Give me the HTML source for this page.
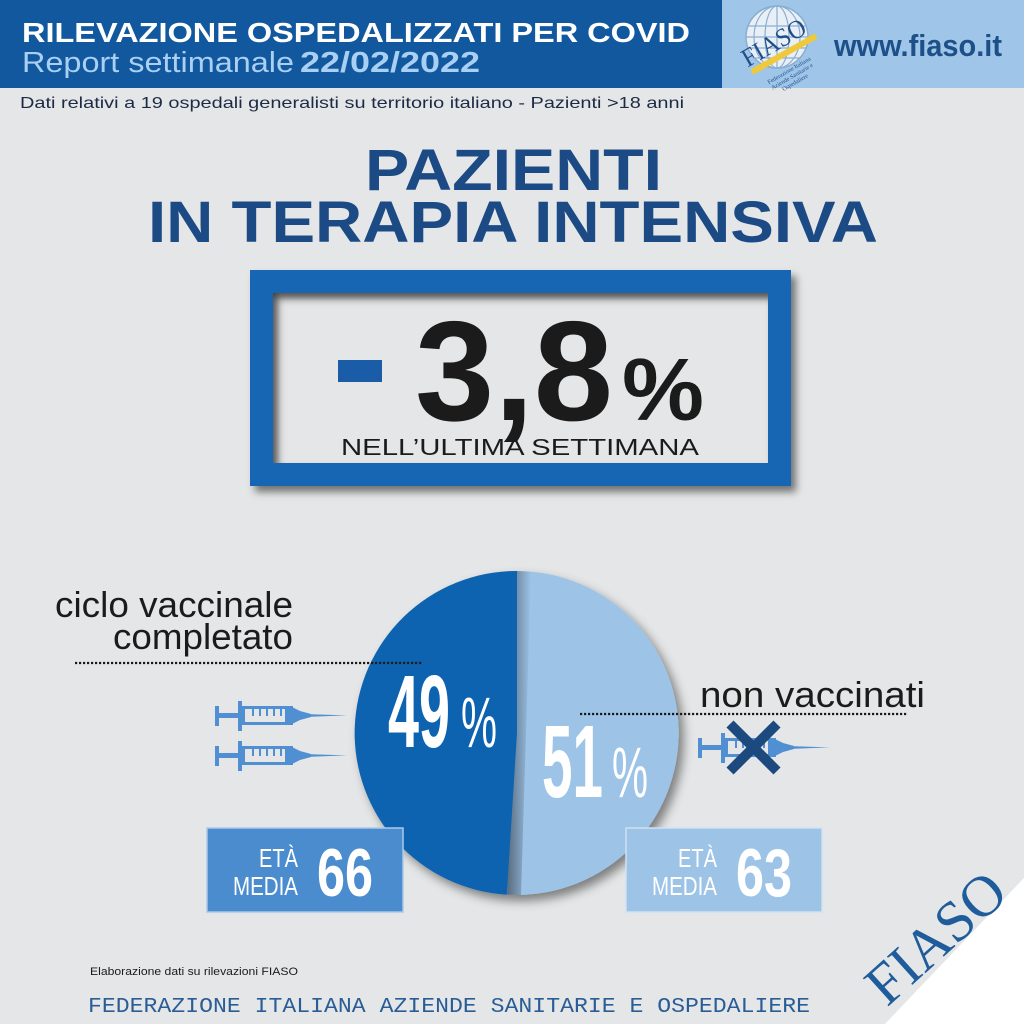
<!DOCTYPE html>
<html><head><meta charset="utf-8"><style>
html,body{margin:0;padding:0;background:#e5e6e7;}
svg{display:block;}
</style></head><body>
<svg width="1024" height="1024" viewBox="0 0 1024 1024" xmlns="http://www.w3.org/2000/svg">
<defs>
  <filter id="ds" x="-10%" y="-10%" width="130%" height="140%">
    <feDropShadow dx="5" dy="6" stdDeviation="4" flood-color="#000" flood-opacity="0.5"/>
  </filter>
  <filter id="dsp" x="-10%" y="-10%" width="130%" height="130%">
    <feDropShadow dx="5" dy="6" stdDeviation="5" flood-color="#000" flood-opacity="0.45"/>
  </filter>
  <linearGradient id="shx" x1="0" x2="1" y1="0" y2="0">
    <stop offset="0" stop-color="#000" stop-opacity="0.45"/>
    <stop offset="1" stop-color="#000" stop-opacity="0"/>
  </linearGradient>
  <linearGradient id="shy" x1="0" x2="0" y1="0" y2="1">
    <stop offset="0" stop-color="#000" stop-opacity="0.25"/>
    <stop offset="1" stop-color="#000" stop-opacity="0"/>
  </linearGradient>
  <linearGradient id="shx2" x1="0" x2="1" y1="0" y2="0">
    <stop offset="0" stop-color="#000" stop-opacity="0.22"/>
    <stop offset="1" stop-color="#000" stop-opacity="0"/>
  </linearGradient>
  <clipPath id="lc">
    <path d="M517,733 L517,571 A162,162 0 1 1 506.8,894.7 Z"/>
  </clipPath>
  <g id="syr">
    <rect x="215" y="706" width="4" height="20" fill="#4f8fd2"/>
    <rect x="219" y="713" width="20" height="5" fill="#4f8fd2"/>
    <rect x="238" y="701" width="4" height="30" fill="#4f8fd2"/>
    <rect x="241" y="706" width="52" height="19" fill="#4f8fd2"/>
    <rect x="245" y="709" width="40" height="13" fill="#e5e6e7"/>
    <rect x="252" y="709" width="2" height="7" fill="#4f8fd2"/>
    <rect x="259" y="709" width="2" height="7" fill="#4f8fd2"/>
    <rect x="266" y="709" width="2" height="7" fill="#4f8fd2"/>
    <rect x="273" y="709" width="2" height="7" fill="#4f8fd2"/>
    <rect x="280" y="709" width="2" height="7" fill="#4f8fd2"/>
    <polygon points="292,707 292,724 300,720 311,717 311,714 300,711" fill="#4f8fd2"/>
    <polygon points="311,714.3 347,715.4 311,716.8" fill="#4f8fd2"/>
  </g>
</defs>

<rect width="1024" height="1024" fill="#e5e6e7"/>

<!-- Header -->
<rect x="0" y="0" width="722" height="88" fill="#11589f"/>
<rect x="722" y="0" width="302" height="88" fill="#9fc5e8"/>
<text x="22" y="42" font-family="Liberation Sans, sans-serif" font-weight="bold" font-size="28" fill="#ffffff" textLength="668" lengthAdjust="spacingAndGlyphs">RILEVAZIONE OSPEDALIZZATI PER COVID</text>
<text x="22" y="72" font-family="Liberation Sans, sans-serif" font-size="29" fill="#a9cff2" textLength="272" lengthAdjust="spacingAndGlyphs">Report settimanale</text>
<text x="300" y="72" font-family="Liberation Sans, sans-serif" font-weight="bold" font-size="29" fill="#a9cff2" textLength="180" lengthAdjust="spacingAndGlyphs">22/02/2022</text>
<text x="20" y="108" font-family="Liberation Sans, sans-serif" font-size="16" fill="#1c2b44" textLength="664" lengthAdjust="spacingAndGlyphs">Dati relativi a 19 ospedali generalisti su territorio italiano - Pazienti &gt;18 anni</text>

<!-- Logo -->
<g>
  <circle cx="777" cy="37" r="31" fill="#e9eff6" stroke="#8aaed0" stroke-width="1.5"/>
  <ellipse cx="777" cy="37" rx="12" ry="31" fill="none" stroke="#8aaed0" stroke-width="1.2"/>
  <ellipse cx="777" cy="37" rx="23" ry="31" fill="none" stroke="#8aaed0" stroke-width="1.2"/>
  <line x1="777" y1="6" x2="777" y2="68" stroke="#8aaed0" stroke-width="1.2"/>
  <line x1="748" y1="26" x2="806" y2="26" stroke="#8aaed0" stroke-width="1.2"/>
  <line x1="746" y1="37" x2="808" y2="37" stroke="#8aaed0" stroke-width="1.2"/>
  <line x1="748" y1="48" x2="806" y2="48" stroke="#8aaed0" stroke-width="1.2"/>
  <line x1="753" y1="58" x2="801" y2="58" stroke="#8aaed0" stroke-width="1.2"/>
  <line x1="752" y1="72" x2="816" y2="36" stroke="#f0c93a" stroke-width="6"/>
  <text transform="translate(778,50) rotate(-30)" text-anchor="middle" font-family="Liberation Serif, serif" font-size="26" fill="#1f4e88" textLength="70" lengthAdjust="spacingAndGlyphs">FIASO</text>
  <text transform="translate(790,72) rotate(-30)" text-anchor="middle" font-family="Liberation Serif, serif" font-size="6" fill="#1f4e88">Federazione Italiana</text>
  <text transform="translate(793,78) rotate(-30)" text-anchor="middle" font-family="Liberation Serif, serif" font-size="6" fill="#1f4e88">Aziende Sanitarie e</text>
  <text transform="translate(796,84) rotate(-30)" text-anchor="middle" font-family="Liberation Serif, serif" font-size="6" fill="#1f4e88">Ospedaliere</text>
</g>
<text x="834" y="56" font-family="Liberation Sans, sans-serif" font-weight="bold" font-size="31" fill="#1d4f88" textLength="168" lengthAdjust="spacingAndGlyphs">www.fiaso.it</text>

<!-- Title -->
<text x="365" y="190" font-family="Liberation Sans, sans-serif" font-weight="bold" font-size="58" fill="#1b4a84" textLength="297" lengthAdjust="spacingAndGlyphs">PAZIENTI</text>
<text x="148" y="242" font-family="Liberation Sans, sans-serif" font-weight="bold" font-size="58" fill="#1b4a84" textLength="730" lengthAdjust="spacingAndGlyphs">IN TERAPIA INTENSIVA</text>

<!-- Frame -->
<path d="M250,270 H791 V486 H250 Z M273,293 V463 H768 V293 Z" fill="#1466b3" fill-rule="evenodd" filter="url(#ds)"/>
<rect x="273" y="293" width="495" height="8" fill="url(#shy)"/>
<rect x="273" y="293" width="8" height="170" fill="url(#shx2)"/>
<rect x="338" y="360" width="44" height="22" fill="#1a5ca8"/>
<text x="415" y="420" font-family="Liberation Sans, sans-serif" font-weight="bold" font-size="142" fill="#1b1b1b" textLength="198" lengthAdjust="spacingAndGlyphs">3,8</text>
<text x="622" y="420" font-family="Liberation Sans, sans-serif" font-weight="bold" font-size="88" fill="#1b1b1b" textLength="82" lengthAdjust="spacingAndGlyphs">%</text>
<text x="341" y="455" font-family="Liberation Sans, sans-serif" font-size="23" fill="#1b1b1b" textLength="358" lengthAdjust="spacingAndGlyphs">NELL’ULTIMA SETTIMANA</text>

<!-- Pie -->
<g filter="url(#dsp)">
  <path d="M517,733 L517,571 A162,162 0 1 1 506.8,894.7 Z" fill="#9dc3e6"/>
  <path d="M517,733 L517,571 A162,162 0 0 0 506.8,894.7 Z" fill="#0a63b0"/>
</g>
<g clip-path="url(#lc)">
  <polygon points="517,571 531,571 521,895 507,895" fill="url(#shx)"/>
</g>
<text x="388" y="747" font-family="Liberation Sans Narrow, Liberation Sans, sans-serif" font-weight="bold" font-size="103" fill="#ffffff" textLength="62" lengthAdjust="spacingAndGlyphs">49</text>
<text x="461" y="747" font-family="Liberation Sans Narrow, Liberation Sans, sans-serif" font-size="71" fill="#ffffff" textLength="36" lengthAdjust="spacingAndGlyphs">%</text>
<text x="542" y="797" font-family="Liberation Sans Narrow, Liberation Sans, sans-serif" font-weight="bold" font-size="103" fill="#ffffff" textLength="61" lengthAdjust="spacingAndGlyphs">51</text>
<text x="612" y="797" font-family="Liberation Sans Narrow, Liberation Sans, sans-serif" font-size="71" fill="#ffffff" textLength="36" lengthAdjust="spacingAndGlyphs">%</text>

<!-- Labels -->
<text x="55" y="617" font-family="Liberation Sans Narrow, Liberation Sans, sans-serif" font-size="36" fill="#1b1b1b" textLength="238" lengthAdjust="spacingAndGlyphs">ciclo vaccinale</text>
<text x="113" y="649" font-family="Liberation Sans Narrow, Liberation Sans, sans-serif" font-size="36" fill="#1b1b1b" textLength="180" lengthAdjust="spacingAndGlyphs">completato</text>
<line x1="75" y1="663" x2="422" y2="663" stroke="#1b1b1b" stroke-width="2.2" stroke-dasharray="2.2 1.8"/>
<text x="700" y="707" font-family="Liberation Sans Narrow, Liberation Sans, sans-serif" font-size="36" fill="#1b1b1b" textLength="225" lengthAdjust="spacingAndGlyphs">non vaccinati</text>
<line x1="580" y1="714" x2="907" y2="714" stroke="#1b1b1b" stroke-width="2.2" stroke-dasharray="2.2 1.8"/>

<!-- Syringes -->
<use href="#syr"/>
<use href="#syr" transform="translate(0,40)"/>
<use href="#syr" transform="translate(483,32)"/>
<line x1="730" y1="724" x2="777" y2="771" stroke="#1d4a7e" stroke-width="10"/>
<line x1="777" y1="724" x2="730" y2="771" stroke="#1d4a7e" stroke-width="10"/>

<!-- Age boxes -->
<rect x="207" y="828" width="196" height="84" fill="#4a8ccd" stroke="#a9c9ea" stroke-width="1.5"/>
<text x="259" y="867" font-family="Liberation Sans Narrow, Liberation Sans, sans-serif" font-size="26" fill="#ffffff" textLength="39" lengthAdjust="spacingAndGlyphs">ETÀ</text>
<text x="233" y="895" font-family="Liberation Sans Narrow, Liberation Sans, sans-serif" font-size="26" fill="#ffffff" textLength="65" lengthAdjust="spacingAndGlyphs">MEDIA</text>
<text x="317" y="896" font-family="Liberation Sans Narrow, Liberation Sans, sans-serif" font-weight="bold" font-size="68" fill="#ffffff" textLength="56" lengthAdjust="spacingAndGlyphs">66</text>

<rect x="626" y="828" width="196" height="84" fill="#9dc3e6" stroke="#cfe2f3" stroke-width="1.5"/>
<text x="678" y="867" font-family="Liberation Sans Narrow, Liberation Sans, sans-serif" font-size="26" fill="#ffffff" textLength="39" lengthAdjust="spacingAndGlyphs">ETÀ</text>
<text x="652" y="895" font-family="Liberation Sans Narrow, Liberation Sans, sans-serif" font-size="26" fill="#ffffff" textLength="65" lengthAdjust="spacingAndGlyphs">MEDIA</text>
<text x="736" y="896" font-family="Liberation Sans Narrow, Liberation Sans, sans-serif" font-weight="bold" font-size="68" fill="#ffffff" textLength="56" lengthAdjust="spacingAndGlyphs">63</text>

<!-- Footer -->
<text x="90" y="975" font-family="Liberation Sans Narrow, Liberation Sans, sans-serif" font-size="11" fill="#1b1b1b" textLength="208" lengthAdjust="spacingAndGlyphs">Elaborazione dati su rilevazioni FIASO</text>
<text x="88" y="1012" font-family="Liberation Mono, monospace" font-size="21" fill="#2a5d96" textLength="722" lengthAdjust="spacingAndGlyphs">FEDERAZIONE ITALIANA AZIENDE SANITARIE E OSPEDALIERE</text>

<polygon points="1024,878 1024,1024 885,1024" fill="#ffffff"/>
<text transform="translate(936,938) rotate(-42)" text-anchor="middle" y="19" font-family="Liberation Serif, serif" font-size="58" fill="#1f5c9b" textLength="166" lengthAdjust="spacingAndGlyphs">FIASO</text>
</svg>
</body></html>
